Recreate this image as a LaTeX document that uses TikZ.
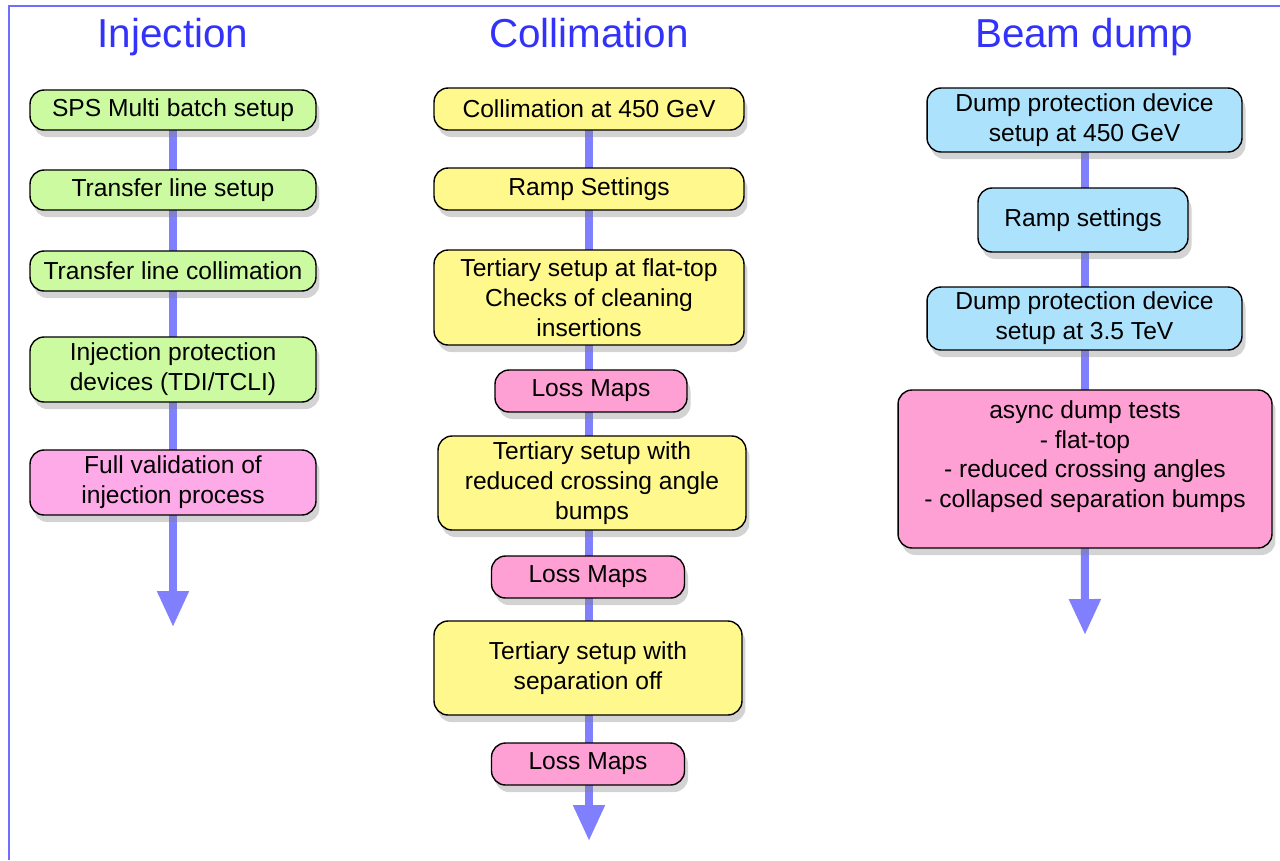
\documentclass[tikz,border=0pt]{standalone}
\usepackage{fontspec}
\setmainfont{Liberation Sans}
\usepackage{tikz}
\usetikzlibrary{arrows.meta,shadows,backgrounds}

\definecolor{titleblue}{RGB}{50,50,250}
\definecolor{frameblue}{RGB}{110,110,255}
\definecolor{flowblue}{RGB}{128,128,255}
\definecolor{injgreen}{RGB}{204,250,160}
\definecolor{colyellow}{RGB}{255,248,140}
\definecolor{losspink}{RGB}{255,160,212}
\definecolor{valpink}{RGB}{255,170,232}
\definecolor{dumpblue}{RGB}{172,226,252}

\begin{document}
\begin{tikzpicture}[x=0.02cm,y=-0.02cm,
  title/.style={text=titleblue,anchor=base,font=\fontsize{23}{27}\selectfont},
  box/.style={draw=black,line width=0.8pt,rounded corners=8pt,align=center,
    inner sep=0pt,font=\fontsize{14}{17}\selectfont,
    drop shadow={opacity=0.35,shadow xshift=2pt,shadow yshift=-4pt}},
  flow/.style={draw=flowblue,line width=0.16cm},
  flowend/.style={flow,-{Triangle[width=0.6cm,length=0.72cm]}}]
  \useasboundingbox (0,0) rectangle (1280,860);
  % 1. the frame (only top and left edge are seen)
  \draw[frameblue,line width=1.4pt] (9,860) -- (9,6) -- (1280,6);
  % 2. the column titles
  \node[title] (tinj) at (173,47) {Injection};
  \node[title] (tcol) at (589,47) {Collimation};
  \node[title] (tdump) at (1084,47) {Beam dump};
  % 3. injection column
  \node[box,fill=injgreen,minimum width=5.72cm,minimum height=0.8cm]
    (inj1) at (173,110) {SPS Multi batch setup};
  \node[box,fill=injgreen,minimum width=5.72cm,minimum height=0.8cm]
    (inj2) at (173,190) {Transfer line setup};
  \node[box,fill=injgreen,minimum width=5.72cm,minimum height=0.8cm]
    (inj3) at (173,271) {Transfer line collimation};
  \node[box,fill=injgreen,minimum width=5.72cm,minimum height=1.3cm]
    (inj4) at (173,369.5) {Injection protection\\devices (TDI/TCLI)};
  \node[box,fill=valpink,minimum width=5.72cm,minimum height=1.3cm]
    (inj5) at (173,482.5) {Full validation of\\injection process};
  \coordinate (injend) at (173,627);
  % 4. collimation column
  \node[box,fill=colyellow,minimum width=6.2cm,minimum height=0.84cm]
    (col1) at (589,109) {Collimation at 450 GeV};
  \node[box,fill=colyellow,minimum width=6.2cm,minimum height=0.84cm]
    (col2) at (589,189) {Ramp Settings};
  \node[box,fill=colyellow,minimum width=6.2cm,minimum height=1.9cm]
    (col3) at (589,297.5) {Tertiary setup at flat-top\\Checks of cleaning\\insertions};
  \node[box,fill=losspink,minimum width=3.84cm,minimum height=0.84cm]
    (col4) at (591,391) {Loss Maps};
  \node[box,fill=colyellow,minimum width=6.16cm,minimum height=1.88cm]
    (col5) at (592,483) {Tertiary setup with\\reduced crossing angle\\bumps};
  \node[box,fill=losspink,minimum width=3.86cm,minimum height=0.84cm]
    (col6) at (588,577) {Loss Maps};
  \node[box,fill=colyellow,minimum width=6.16cm,minimum height=1.88cm]
    (col7) at (588,668) {Tertiary setup with\\separation off};
  \node[box,fill=losspink,minimum width=3.86cm,minimum height=0.84cm]
    (col8) at (588,764) {Loss Maps};
  \coordinate (colend) at (589,841);
  % 5. beam dump column
  \node[box,fill=dumpblue,minimum width=6.3cm,minimum height=1.28cm]
    (bd1) at (1084.5,120) {Dump protection device\\setup at 450 GeV};
  \node[box,fill=dumpblue,minimum width=4.2cm,minimum height=1.28cm]
    (bd2) at (1083,220) {Ramp settings};
  \node[box,fill=dumpblue,minimum width=6.3cm,minimum height=1.26cm]
    (bd3) at (1084.5,318.5) {Dump protection device\\setup at 3.5 TeV};
  \node[box,fill=losspink,minimum width=7.48cm,minimum height=3.16cm]
    (bd4) at (1085,469) {async dump tests\\- flat-top\\- reduced crossing angles\\- collapsed separation bumps\\\mbox{}};
  \coordinate (bdend) at (1085,635);
  % 6. the flow lines behind the boxes
  \begin{scope}[on background layer]
    \draw[flow] (inj1.center) -- (inj5.center);
    \draw[flowend] (inj5.center) -- (injend);
    \draw[flow] (col1.center) -- (col1.center |- col8.center);
    \draw[flowend] (col1.center |- col8.center) -- (colend);
    \draw[flow] (bd1.center) -- (bd1.center |- bd4.center);
    \draw[flowend] (bd1.center |- bd4.center) -- (bdend);
  \end{scope}
\end{tikzpicture}
\end{document}
